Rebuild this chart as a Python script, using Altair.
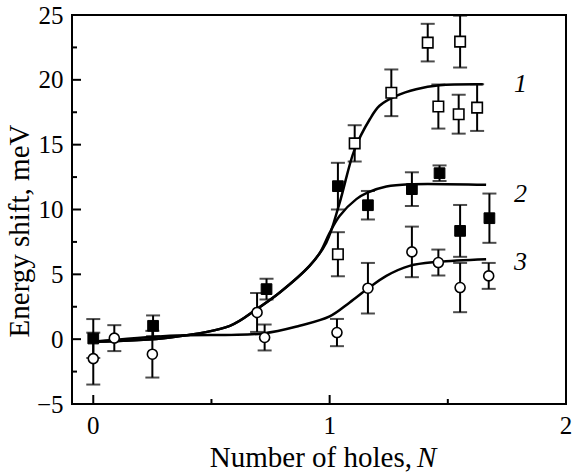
import altair as alt
import pandas as pd

# ---- data ----
s1_x = [1.035, 1.106, 1.261, 1.415, 1.46, 1.546, 1.552, 1.624]
s1_y = [6.55, 15.1, 19.0, 22.87, 17.94, 17.35, 22.95, 17.86]
s1_e = [1.7, 1.4, 1.8, 1.45, 1.7, 1.5, 2.0, 1.8]

s2_x = [0.0, 0.253, 0.733, 1.035, 1.162, 1.348, 1.465, 1.552, 1.676]
s2_y = [0.05, 1.03, 3.86, 11.8, 10.33, 11.57, 12.8, 8.35, 9.33]
s2_e = [1.5, 0.8, 0.8, 1.8, 1.1, 1.3, 0.6, 2.0, 1.9]

s3_x = [0.0, 0.089, 0.25, 0.693, 0.725, 1.031, 1.162, 1.348, 1.46, 1.552, 1.673]
s3_y = [-1.5, 0.08, -1.16, 2.06, 0.13, 0.51, 3.93, 6.73, 5.91, 3.98, 4.88]
s3_e = [2.0, 1.0, 1.8, 1.5, 1.0, 1.05, 1.95, 1.95, 1.0, 1.9, 1.0]

c1_x = [0.0, 0.324, 0.578, 0.69, 0.789, 0.915, 0.986, 1.042, 1.105, 1.17, 1.211, 1.282, 1.366, 1.465, 1.648]
c1_y = [-0.2, 0.13, 1.03, 2.3, 3.6, 5.65, 7.45, 10.5, 14.6, 16.96, 18.0, 18.76, 19.27, 19.58, 19.66]

c2_x = [0.0, 0.324, 0.578, 0.69, 0.789, 0.915, 0.96, 1.0, 1.042, 1.113, 1.16, 1.24, 1.338, 1.662]
c2_y = [-0.2, 0.13, 1.03, 2.3, 3.6, 5.65, 6.7, 8.2, 9.5, 10.8, 11.3, 11.77, 11.95, 11.9]

c3_x = [0.0, 0.324, 0.718, 0.873, 1.0, 1.085, 1.162, 1.24, 1.338, 1.457, 1.662]
c3_y = [-0.2, 0.26, 0.44, 1.03, 1.75, 2.83, 3.9, 4.88, 5.65, 5.96, 6.17]

lab_text = ["1", "2", "3"]
lab_x = [1.807, 1.807, 1.807]
lab_y = [19.66, 11.18, 5.98]

x_major = [0, 1, 2]
x_labels = ["0", "1", "2"]
x_minor = [0.5, 1.5]
y_major = [-5, 0, 5, 10, 15, 20, 25]
y_minor = [-2.5, 2.5, 7.5, 12.5, 17.5, 22.5]

W, H = 494, 389
FONT = "Liberation Serif"


def pts(xs, ys, es, name):
    return pd.DataFrame({"x": xs, "y": ys, "lo": [a - b for a, b in zip(ys, es)],
                         "hi": [a + b for a, b in zip(ys, es)], "s": name})


pdf = pd.concat([pts(s1_x, s1_y, s1_e, "1"), pts(s2_x, s2_y, s2_e, "2"),
                 pts(s3_x, s3_y, s3_e, "3")], ignore_index=True)
cdf = pd.concat([pd.DataFrame({"x": c1_x, "y": c1_y, "c": "1"}),
                 pd.DataFrame({"x": c2_x, "y": c2_y, "c": "2"}),
                 pd.DataFrame({"x": c3_x, "y": c3_y, "c": "3"})], ignore_index=True)

xs = alt.Scale(domain=[-0.09, 2.0], nice=False, zero=False)
ys = alt.Scale(domain=[-5, 25], nice=False, zero=False)

YA = alt.Axis(values=y_major, format="d", ticks=False, domain=False, grid=False, labelFont=FONT,
              labelFontSize=25, labelColor="black", labelPadding=9, labelFlush=False,
              labelOverlap=False, labelBound=False, title=None)


def X(f="x"):
    return alt.X(f"{f}:Q", scale=xs, axis=None)


def Y(f="y"):
    return alt.Y(f"{f}:Q", scale=ys, axis=YA)


curves = alt.Chart(cdf).mark_line(color="black", strokeWidth=2.5, interpolate="catmull-rom").encode(
    x=X(), y=Y(), detail="c:N")

bars = alt.Chart(pdf).mark_rule(color="black", strokeWidth=2).encode(x=X(), y=Y("lo"), y2="hi")
cap_lo = alt.Chart(pdf).mark_tick(color="black", orient="horizontal", size=14, thickness=2).encode(x=X(), y=Y("lo"))
cap_hi = alt.Chart(pdf).mark_tick(color="black", orient="horizontal", size=14, thickness=2).encode(x=X(), y=Y("hi"))

m1 = alt.Chart(pdf[pdf.s == "1"]).mark_point(shape="square", filled=True, fill="white", stroke="black",
                                              strokeWidth=1.6, size=110, opacity=1).encode(x=X(), y=Y())
m2 = alt.Chart(pdf[pdf.s == "2"]).mark_point(shape="square", filled=True, fill="black", stroke="black",
                                              strokeWidth=1, size=115, opacity=1).encode(x=X(), y=Y())
m3 = alt.Chart(pdf[pdf.s == "3"]).mark_point(shape="circle", filled=True, fill="white", stroke="black",
                                              strokeWidth=1.6, size=100, opacity=1).encode(x=X(), y=Y())

labs = alt.Chart(pd.DataFrame({"t": lab_text, "x": lab_x, "y": lab_y})).mark_text(
    font=FONT, fontSize=26, fontStyle="italic", color="black", baseline="middle", align="center"
).encode(x=X(), y=Y(), text="t:N")

ytm = alt.Chart(pd.DataFrame({"y": y_major})).mark_rule(color="black", strokeWidth=2).encode(
    y=Y(), x=alt.value(0), x2=alt.value(9))
ytn = alt.Chart(pd.DataFrame({"y": y_minor})).mark_rule(color="black", strokeWidth=2).encode(
    y=Y(), x=alt.value(0), x2=alt.value(5))
xtm = alt.Chart(pd.DataFrame({"x": x_major})).mark_rule(color="black", strokeWidth=2).encode(
    x=X(), y=alt.value(H), y2=alt.value(H - 9))
xtn = alt.Chart(pd.DataFrame({"x": x_minor})).mark_rule(color="black", strokeWidth=2).encode(
    x=X(), y=alt.value(H), y2=alt.value(H - 5))

xlab = alt.Chart(pd.DataFrame({"x": x_major, "t": x_labels})).mark_text(
    font=FONT, fontSize=25, color="black", align="center", baseline="top"
).encode(x=X(), y=alt.value(H + 10), text="t:N")

xt1 = alt.Chart(pd.DataFrame({"t": ["Number of holes,"]})).mark_text(
    font=FONT, fontSize=29, color="black", align="right", baseline="alphabetic"
).encode(x=alt.value(340), y=alt.value(452), text="t:N")
xt2 = alt.Chart(pd.DataFrame({"t": ["N"]})).mark_text(
    font=FONT, fontSize=29, fontStyle="italic", color="black", align="left", baseline="alphabetic"
).encode(x=alt.value(345), y=alt.value(452), text="t:N")
yt = alt.Chart(pd.DataFrame({"t": ["Energy shift, meV"]})).mark_text(
    font=FONT, fontSize=29, color="black", align="center", baseline="alphabetic", angle=270
).encode(x=alt.value(-43), y=alt.value(216), text="t:N")

chart = alt.layer(curves, bars, cap_lo, cap_hi, m1, m2, m3, labs, ytm, ytn, xtm, xtn,
                  xlab, xt1, xt2, yt).properties(
    width=W, height=H,
    autosize=alt.AutoSizeParams(type="none"),
    padding={"left": 72, "top": 15, "right": 6, "bottom": 72},
    background="white",
).configure_view(stroke="black", strokeWidth=2)

chart.save("out.html", embed_options={"renderer": "svg", "actions": False})
